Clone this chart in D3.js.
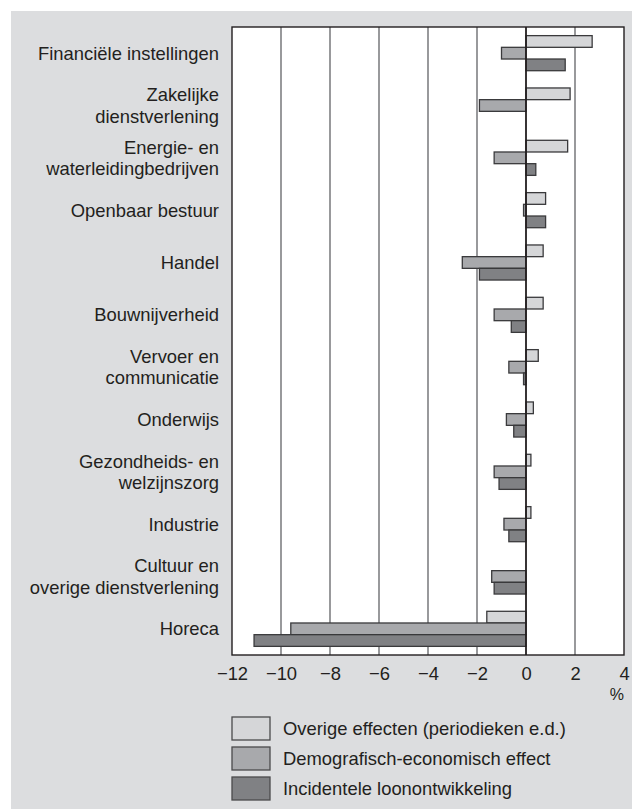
<!DOCTYPE html>
<html><head><meta charset="utf-8">
<script src="https://cdn.jsdelivr.net/npm/d3@7"></script>
<style>
html,body{margin:0;padding:0;background:#fff;}
text{font-family:"Liberation Sans",Arial,sans-serif;fill:#231f20;}
</style></head>
<body>
<svg id="chart" width="632" height="809"></svg>
<script>
const categories = [
  ["Financiële instellingen"],
  ["Zakelijke", "dienstverlening"],
  ["Energie- en", "waterleidingbedrijven"],
  ["Openbaar bestuur"],
  ["Handel"],
  ["Bouwnijverheid"],
  ["Vervoer en", "communicatie"],
  ["Onderwijs"],
  ["Gezondheids- en", "welzijnszorg"],
  ["Industrie"],
  ["Cultuur en", "overige dienstverlening"],
  ["Horeca"]
];
const seriesNames = [
  "Overige effecten (periodieken e.d.)",
  "Demografisch-economisch effect",
  "Incidentele loonontwikkeling"
];
const overige      = [2.7, 1.8, 1.7, 0.8, 0.7, 0.7, 0.5, 0.3, 0.2, 0.2, 0, -1.6];
const demografisch = [-1.0, -1.9, -1.3, -0.1, -2.6, -1.3, -0.7, -0.8, -1.3, -0.9, -1.4, -9.6];
const incidenteel  = [1.6, 0, 0.4, 0.8, -1.9, -0.6, -0.1, -0.5, -1.1, -0.7, -1.3, -11.1];
const xTicks = [-12, -10, -8, -6, -4, -2, 0, 2, 4];
const xUnit = "%";

const seriesValues = [overige, demografisch, incidenteel];
const colors = ["#d5d6d8", "#a8a9ac", "#808184"];

const svg = d3.select("#chart");
svg.append("rect").attr("x", 11).attr("y", 11).attr("width", 621).attr("height", 798).attr("fill", "#dcdddf");

const pLeft = 232, pRight = 624, pTop = 27, pBottom = 655;
const x = d3.scaleLinear().domain([-12, 4]).range([pLeft, pRight]);
const y = d3.scaleBand().domain(d3.range(categories.length)).range([pTop, pBottom])
  .paddingInner(0.33).paddingOuter(0.165);
const ys = d3.scaleBand().domain(d3.range(seriesNames.length)).range([0, y.bandwidth()]);

svg.append("rect").attr("x", pLeft).attr("y", pTop).attr("width", pRight - pLeft).attr("height", pBottom - pTop)
  .attr("fill", "#fff");

// gridlines
svg.append("g").selectAll("line").data(xTicks.filter(t => t !== 0 && t !== -12 && t !== 4)).join("line")
  .attr("x1", d => x(d)).attr("x2", d => x(d)).attr("y1", pTop).attr("y2", pBottom)
  .attr("stroke", "#6d6e71").attr("stroke-width", 1.4);

// bars
const rows = [];
categories.forEach((c, i) => seriesValues.forEach((vals, s) => rows.push({i, s, v: vals[i]})));
svg.append("g").selectAll("rect").data(rows.filter(d => d.v !== 0)).join("rect")
  .attr("x", d => x(Math.min(0, d.v)))
  .attr("width", d => Math.abs(x(d.v) - x(0)))
  .attr("y", d => y(d.i) + ys(d.s))
  .attr("height", ys.bandwidth())
  .attr("fill", d => colors[d.s])
  .attr("stroke", "#3a3a3c").attr("stroke-width", 1.3);

// zero line
svg.append("line").attr("x1", x(0)).attr("x2", x(0)).attr("y1", pTop).attr("y2", pBottom)
  .attr("stroke", "#231f20").attr("stroke-width", 1.8);

// frame
svg.append("rect").attr("x", pLeft).attr("y", pTop).attr("width", pRight - pLeft).attr("height", pBottom - pTop)
  .attr("fill", "none").attr("stroke", "#231f20").attr("stroke-width", 1.4);

// x axis labels
const xAxis = d3.axisBottom(x).tickValues(xTicks).tickSize(0).tickPadding(12)
  .tickFormat(d => d < 0 ? "\u2212" + Math.abs(d) : String(d));
const ax = svg.append("g").attr("transform", `translate(0,${pBottom})`).call(xAxis);
ax.select(".domain").remove();
ax.selectAll("text").attr("font-size", 18.4).attr("font-family", "Liberation Sans, Arial, sans-serif").attr("fill", "#231f20");

svg.append("text").attr("x", pRight).attr("y", 700).attr("text-anchor", "end").attr("font-size", 16).text(xUnit);

// category labels
const lineH = 21.5;
const lab = svg.append("g");
categories.forEach((lines, i) => {
  const cy = y(i) + y.bandwidth() / 2;
  const t = lab.append("text").attr("text-anchor", "end").attr("font-size", 18.4);
  lines.forEach((ln, k) => {
    t.append("tspan").attr("x", 219)
      .attr("y", cy + (k - (lines.length - 1) / 2) * lineH)
      .attr("dy", "0.35em").text(ln);
  });
});

// legend
const lg = svg.append("g");
seriesNames.forEach((name, s) => {
  const ly = 717 + s * 30;
  lg.append("rect").attr("x", 232).attr("y", ly).attr("width", 38).attr("height", 23)
    .attr("fill", colors[s]).attr("stroke", "#4a4a4c").attr("stroke-width", 1.3);
  lg.append("text").attr("x", 283).attr("y", ly + 11.5).attr("dy", "0.35em").attr("font-size", 18.4).text(name);
});
</script>
</body></html>
